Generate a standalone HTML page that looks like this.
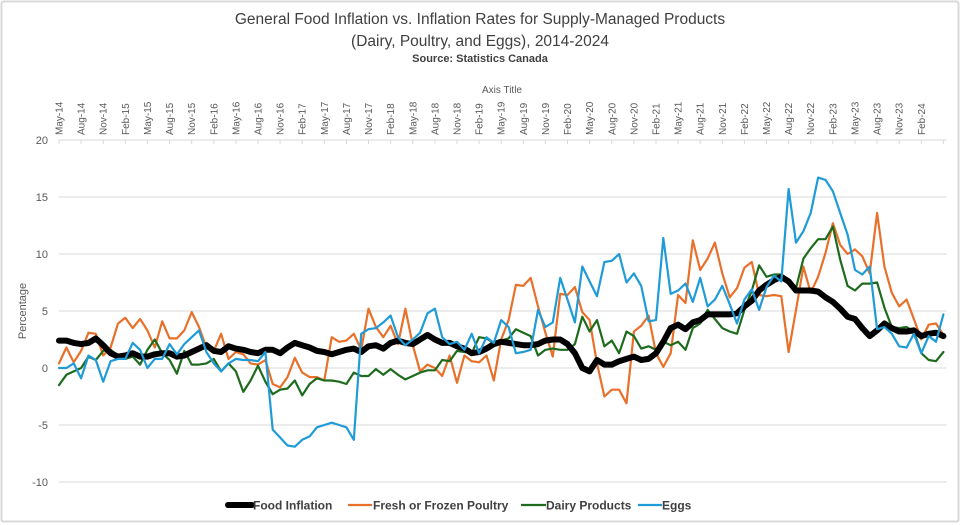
<!DOCTYPE html>
<html><head><meta charset="utf-8"><style>
body{margin:0;background:#fff;}
#wrap{width:960px;height:525px;position:relative;overflow:hidden;font-family:"Liberation Sans",sans-serif;}
</style></head><body>
<div id="wrap">
<svg id="chart" width="960" height="525" xmlns="http://www.w3.org/2000/svg">
<rect x="1.5" y="1.5" width="957" height="520" fill="#fff" stroke="#d9d9d9" stroke-width="2" rx="2"/>
<text x="480" y="24" text-anchor="middle" font-size="15.5" fill="#404040">General Food Inflation vs. Inflation Rates for Supply-Managed Products</text>
<text x="480" y="46" text-anchor="middle" font-size="15.5" fill="#404040">(Dairy, Poultry, and Eggs), 2014-2024</text>
<text x="480" y="62" text-anchor="middle" font-size="11" font-weight="bold" fill="#404040">Source: Statistics Canada</text>
<text x="502" y="93" text-anchor="middle" font-size="10" fill="#595959">Axis Title</text>
<text transform="translate(26,311) rotate(-90)" text-anchor="middle" font-size="11" fill="#595959">Percentage</text>
<g id="grid"></g><g id="xaxis"></g><g id="yaxis"></g><g id="series"></g>
<g id="legend">
<line x1="228" y1="505" x2="252" y2="505" stroke="#000" stroke-width="6" stroke-linecap="round"/>
<text x="253" y="509.5" font-size="12" font-weight="bold" fill="#404040">Food Inflation</text>
<line x1="348" y1="505" x2="372" y2="505" stroke="#e8702a" stroke-width="2.2"/>
<text x="373" y="509.5" font-size="12" font-weight="bold" fill="#404040">Fresh or Frozen Poultry</text>
<line x1="521" y1="505" x2="546" y2="505" stroke="#1e6b1e" stroke-width="2.2"/>
<text x="546" y="509.5" font-size="12" font-weight="bold" fill="#404040">Dairy Products</text>
<line x1="638" y1="505" x2="662" y2="505" stroke="#1f9bd7" stroke-width="2.2"/>
<text x="662" y="509.5" font-size="12" font-weight="bold" fill="#404040">Eggs</text>
</g>
</svg>
</div>
<script>
const monthNames=["Jan","Feb","Mar","Apr","May","Jun","Jul","Aug","Sep","Oct","Nov","Dec"];
const yTicks=[20,15,10,5,0,-5,-10];
const foodInflation=[2.4,2.4,2.2,2.1,2.2,2.6,2.0,1.3,1.0,1.1,1.3,1.0,1.0,1.2,1.3,1.3,1.0,1.1,1.4,1.7,2.0,1.5,1.4,1.9,1.7,1.6,1.4,1.3,1.6,1.6,1.3,1.8,2.2,2.0,1.8,1.5,1.4,1.2,1.4,1.6,1.7,1.4,1.9,2.0,1.7,2.2,2.4,2.2,2.1,2.5,2.9,2.5,2.2,2.2,1.9,1.7,1.3,1.4,1.7,2.1,2.3,2.2,2.1,2.0,2.0,2.1,2.4,2.5,2.5,2.1,1.3,0.0,-0.3,0.7,0.3,0.3,0.6,0.8,1.0,0.7,0.8,1.3,2.3,3.5,3.8,3.4,4.0,4.2,4.7,4.7,4.7,4.7,4.8,5.4,5.9,6.8,7.3,7.7,8.0,7.6,6.8,6.8,6.8,6.7,6.2,5.8,5.2,4.5,4.3,3.5,2.8,3.3,3.9,3.5,3.2,3.2,3.3,2.8,3.0,3.1,2.8];
const poultry=[0.4,1.8,0.5,1.5,3.1,3.0,1.1,1.8,3.9,4.4,3.5,4.3,3.3,1.8,4.1,2.6,2.6,3.3,4.9,3.6,1.8,1.5,3.0,0.8,1.4,1.2,0.4,0.3,0.7,-1.4,-1.7,-0.8,0.9,-0.4,-0.8,-0.8,-1.1,2.7,2.3,2.4,3.0,1.6,5.2,3.6,2.7,3.7,2.1,5.2,2.0,-0.3,0.3,0.0,-0.7,1.1,-1.3,1.1,0.6,0.5,1.1,-1.1,2.5,4.2,7.3,7.2,7.9,5.4,3.1,1.0,6.5,6.4,7.1,4.9,4.2,0.4,-2.5,-1.9,-1.9,-3.1,3.2,3.7,4.6,1.3,0.1,1.3,6.4,5.7,11.2,8.6,9.6,11.0,8.3,6.2,7.0,8.8,9.3,6.4,6.3,6.4,6.3,1.4,5.1,8.9,6.6,8.0,10.1,12.7,10.8,10.0,10.4,9.8,8.3,13.6,8.9,6.6,5.4,6.0,4.3,2.5,3.8,3.9,2.9];
const dairy=[-1.5,-0.6,-0.3,0.0,1.0,0.7,1.5,1.6,1.1,0.8,1.0,0.3,1.6,2.5,1.3,0.7,-0.5,1.5,0.3,0.3,0.4,0.8,-0.3,0.4,-0.3,-2.1,-1.1,0.2,-1.2,-2.3,-1.9,-1.8,-1.1,-2.4,-1.4,-0.9,-1.1,-1.1,-1.2,-1.4,-0.4,-0.7,-0.7,-0.1,-0.6,-0.1,-0.6,-1.0,-0.7,-0.4,-0.2,-0.2,0.7,0.6,1.5,1.4,1.3,2.7,2.6,2.2,2.4,2.6,3.4,3.1,2.8,1.1,1.6,1.7,1.6,1.6,2.1,4.5,3.2,4.2,1.9,2.4,1.3,3.2,2.8,1.7,1.9,1.6,2.3,2.0,2.3,1.6,3.5,3.9,5.1,4.3,3.5,3.2,3.0,5.1,6.8,9.0,8.0,8.2,8.2,7.5,7.0,9.6,10.5,11.3,11.3,12.4,9.5,7.2,6.8,7.4,7.4,7.5,5.3,3.6,3.5,3.6,3.2,1.3,0.7,0.6,1.4];
const eggs=[0.0,0.0,0.4,-0.9,1.1,0.7,-1.2,0.6,0.8,0.8,2.2,1.6,0.0,0.8,0.8,2.1,1.2,2.1,2.7,3.3,1.4,0.4,-0.3,0.4,0.8,0.7,0.7,0.6,1.4,-5.4,-6.1,-6.8,-6.9,-6.3,-6.0,-5.2,-5.0,-4.8,-5.0,-5.2,-6.3,3.0,3.4,3.5,4.0,4.6,2.7,2.0,2.5,3.1,4.8,5.2,2.7,2.1,2.3,1.6,3.0,1.3,2.7,2.2,4.2,3.6,1.3,1.4,1.6,5.1,3.6,4.0,7.9,6.0,4.0,8.9,7.6,6.3,9.3,9.4,10.0,7.5,8.3,7.2,4.1,4.2,11.4,6.5,6.8,7.4,5.8,7.9,5.4,6.0,7.2,5.6,3.9,6.0,6.9,5.1,7.1,8.1,7.6,15.7,11.0,12.0,13.6,16.7,16.5,15.5,13.6,11.7,8.6,8.2,8.9,3.4,3.6,3.0,1.9,1.8,3.0,1.3,2.8,2.3,4.7];
const startYear=2014,startMonth=4;

const NS="http://www.w3.org/2000/svg";
const X0=59,XSTEP=7.37,YTOP=140,YBOT=482,YMAX=20,YMIN=-10;
function xScale(i){return X0+i*XSTEP;}
function yScale(v){return YTOP+(YMAX-v)/(YMAX-YMIN)*(YBOT-YTOP);}
function mk(tag,attrs,parent){const e=document.createElementNS(NS,tag);for(const k in attrs)e.setAttribute(k,attrs[k]);parent.appendChild(e);return e;}
const grid=document.getElementById('grid'),xaxis=document.getElementById('xaxis'),yaxis=document.getElementById('yaxis'),series=document.getElementById('series');
const nPts=foodInflation.length;
const xEnd=xScale(nPts-1)+3;
yTicks.forEach(t=>{
  const l=mk('line',{x1:X0,x2:xEnd,y1:yScale(t),y2:yScale(t),stroke:'#d9d9d9','stroke-width':1},grid);
  
  
  const tx=mk('text',{x:48,y:yScale(t)+4,'text-anchor':'end','font-size':11,fill:'#595959'},yaxis);
  tx.textContent=t;
  
  
});
for(let i=0;i<nPts;i+=3){
  const m=(startMonth+i)%12,y=startYear+Math.floor((startMonth+i)/12);
  const lab=monthNames[m]+'-'+String(y).slice(2);
  const tk=mk('line',{x1:xScale(i),x2:xScale(i),y1:YTOP,y2:YTOP+4,stroke:'#d9d9d9','stroke-width':1},xaxis);
  
  
  if(i>117)continue;
  const tx=mk('text',{transform:'translate('+(xScale(i)+3.5)+','+(YTOP-5)+') rotate(-90)','font-size':10,fill:'#595959'},xaxis);
  tx.textContent=lab;
  
  
}
function drawLine(arr,color,w,name){
  const d=arr.map((v,i)=>(i?'L':'M')+xScale(i).toFixed(1)+' '+yScale(v).toFixed(1)).join(' ');
  const p=mk('path',{d:d,fill:'none',stroke:color,'stroke-width':w,'stroke-linejoin':'round','stroke-linecap':'round'},series);
  
  
}
drawLine(poultry,'#e8702a',2.2,'series-line-poultry');
drawLine(dairy,'#1e6b1e',2.2,'series-line-dairy');
drawLine(foodInflation,'#000',6,'series-line-food-inflation');
drawLine(eggs,'#1f9bd7',2.2,'series-line-eggs');
</script>
</body></html>
